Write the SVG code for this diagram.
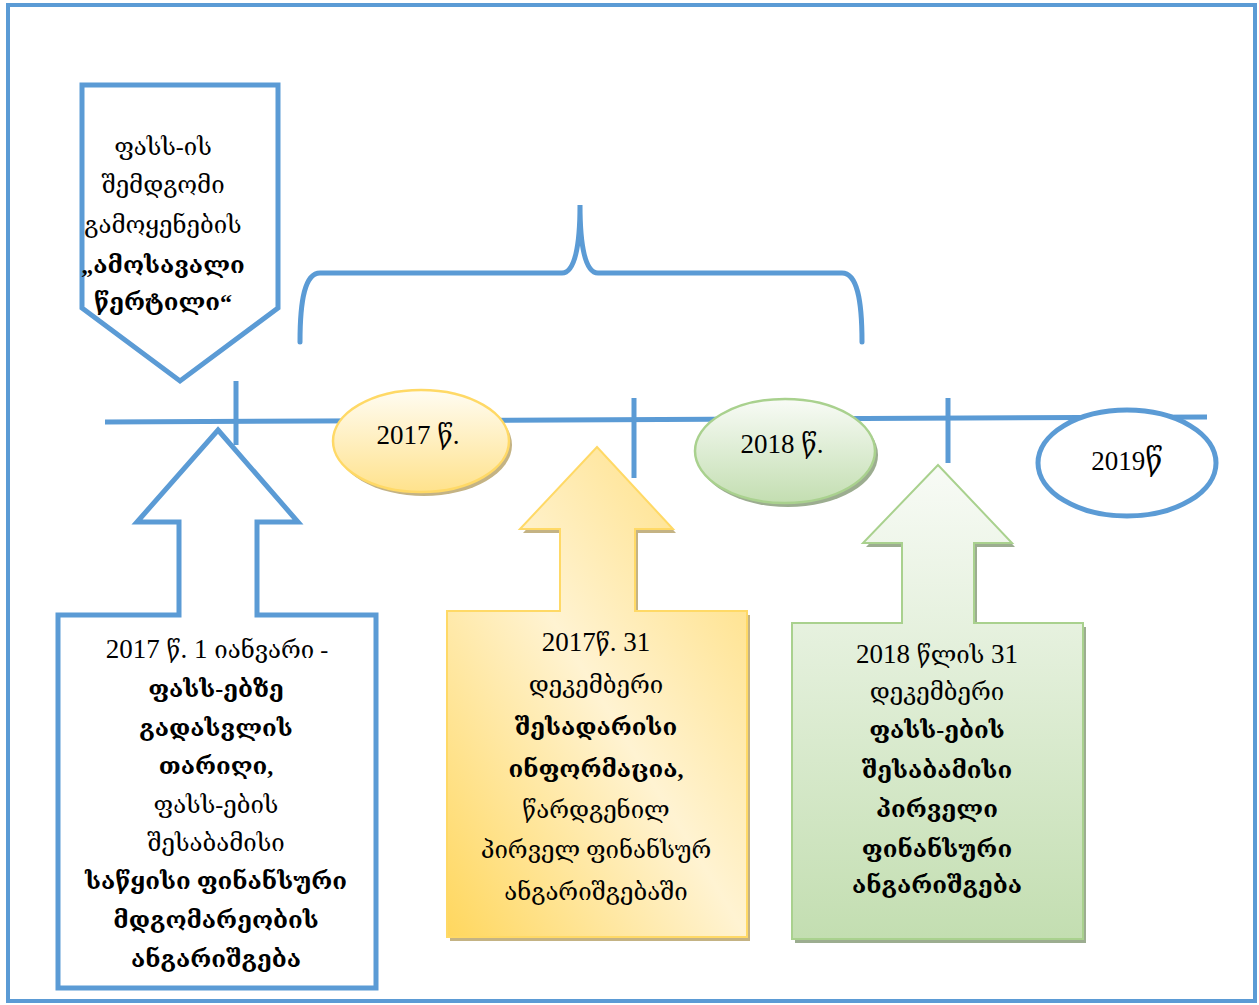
<svg xmlns="http://www.w3.org/2000/svg" width="1259" height="1005" viewBox="0 0 1259 1005">
<style>
.t{font-family:'Liberation Serif','DejaVu Serif','DejaVu Sans',serif;font-size:24px;fill:#000;text-anchor:middle}
.b{font-weight:bold}
.d{font-size:27px}
.e{font-size:27px}
.blue{fill:none;stroke:#5B9BD5;stroke-width:5}
</style>
<defs>
<linearGradient id="gy" x1="0" y1="1" x2="1" y2="0">
<stop offset="0" stop-color="#FFD75E"/>
<stop offset="0.5" stop-color="#FFF3D2"/>
<stop offset="1" stop-color="#FFDC74"/>
</linearGradient>
<linearGradient id="gye" x1="0" y1="0" x2="0" y2="1">
<stop offset="0" stop-color="#FFFCF2"/>
<stop offset="1" stop-color="#FFE28C"/>
</linearGradient>
<linearGradient id="gg" x1="0" y1="0" x2="0" y2="1">
<stop offset="0" stop-color="#F8FBF6"/>
<stop offset="1" stop-color="#C3DEB1"/>
</linearGradient>
</defs>
<rect x="8" y="5" width="1247" height="996" fill="#fff" stroke="#5B9BD5" stroke-width="4"/>
<g id="connectors">
<line x1="105" y1="422" x2="1207" y2="417" stroke="#5B9BD5" stroke-width="5"/>
<line x1="236" y1="381" x2="236" y2="445" stroke="#5B9BD5" stroke-width="5"/>
<line x1="634" y1="398" x2="634" y2="478" stroke="#5B9BD5" stroke-width="5"/>
<line x1="948" y1="398" x2="948" y2="463" stroke="#5B9BD5" stroke-width="5"/>
</g>
<g id="brace">
<path class="blue" stroke-linecap="round" d="M300,342 C300,300 305,273 320,273 L562,273 C575,273 580,245 580,205 C580,245 585,273 598,273 L842,273 C857,273 862,300 862,342"/>
</g>
<g id="start-point">
<path d="M82,85 L278,85 L278,308 L180,381 L82,308 Z" fill="#fff" stroke="#5B9BD5" stroke-width="5"/>
<text class="t" x="163" y="155">ფასს-ის</text>
<text class="t" x="163" y="193">შემდგომი</text>
<text class="t" x="163" y="233">გამოყენების</text>
<text class="t b" x="163" y="273">„ამოსავალი</text>
<text class="t b" x="163" y="310">წერტილი“</text>
</g>
<g id="ellipse-2017">
<ellipse cx="424" cy="445" rx="88" ry="51" fill="#C4B384"/>
<ellipse cx="421" cy="441" rx="88" ry="51" fill="url(#gye)" stroke="#FFD966" stroke-width="2.5"/>
<text class="t e" x="418" y="444">2017 წ.</text>
</g>
<g id="ellipse-2018">
<ellipse cx="788" cy="455" rx="90" ry="52" fill="#9CAD90"/>
<ellipse cx="785" cy="451" rx="90" ry="52" fill="url(#gg)" stroke="#A9D18E" stroke-width="2.5"/>
<text class="t e" x="782" y="453">2018 წ.</text>
</g>
<g id="ellipse-2019">
<ellipse cx="1127" cy="463" rx="89" ry="53" fill="#fff" stroke="#5B9BD5" stroke-width="5"/>
<text class="t e" x="1127" y="470">2019<tspan style="font-size:30px">წ</tspan></text>
</g>
<g id="box-2017-jan">
<path d="M218,430 L298,522 L257,522 L257,615 L376,615 L376,988 L58,988 L58,615 L179,615 L179,522 L137,522 Z" fill="#fff" stroke="#5B9BD5" stroke-width="5"/>
<text class="t" x="217" y="658"><tspan class="d">2017 </tspan>წ<tspan class="d">. 1 </tspan>იანვარი -</text>
<text class="t b" x="216" y="697">ფასს-ებზე</text>
<text class="t b" x="216" y="736">გადასვლის</text>
<text class="t b" x="216" y="774">თარიღი,</text>
<text class="t" x="216" y="813">ფასს-ების</text>
<text class="t" x="216" y="851">შესაბამისი</text>
<text class="t b" x="216" y="889">საწყისი ფინანსური</text>
<text class="t b" x="216" y="928">მდგომარეობის</text>
<text class="t b" x="216" y="967">ანგარიშგება</text>
</g>
<g id="box-2017-dec">
<path d="M600,451 L676,533 L638,533 L638,615 L750,615 L750,941 L450,941 L450,615 L563,615 L563,533 L523,533 Z" fill="#C4B384"/>
<path d="M597,447 L673,529 L635,529 L635,611 L747,611 L747,937 L447,937 L447,611 L560,611 L560,529 L520,529 Z" fill="url(#gy)" stroke="#FFD966" stroke-width="2"/>
<text class="t" x="596" y="651"><tspan class="d">2017</tspan>წ<tspan class="d">. 31</tspan></text>
<text class="t" x="596" y="693">დეკემბერი</text>
<text class="t b" x="596" y="735">შესადარისი</text>
<text class="t b" x="596" y="777">ინფორმაცია,</text>
<text class="t" x="596" y="818">წარდგენილ</text>
<text class="t" x="596" y="858">პირველ ფინანსურ</text>
<text class="t" x="596" y="900">ანგარიშგებაში</text>
</g>
<g id="box-2018-dec">
<path d="M941,469 L1015,547 L977,547 L977,627 L1086,627 L1086,943 L795,943 L795,627 L905,627 L905,547 L866,547 Z" fill="#9CAD90"/>
<path d="M938,465 L1012,543 L974,543 L974,623 L1083,623 L1083,939 L792,939 L792,623 L902,623 L902,543 L863,543 Z" fill="url(#gg)" stroke="#A9D18E" stroke-width="2"/>
<text class="t" x="937" y="663"><tspan class="d">2018 </tspan>წლის<tspan class="d"> 31</tspan></text>
<text class="t" x="937" y="700">დეკემბერი</text>
<text class="t b" x="937" y="738">ფასს-ების</text>
<text class="t b" x="937" y="778">შესაბამისი</text>
<text class="t b" x="937" y="817">პირველი</text>
<text class="t b" x="937" y="857">ფინანსური</text>
<text class="t b" x="937" y="893">ანგარიშგება</text>
</g>
</svg>
